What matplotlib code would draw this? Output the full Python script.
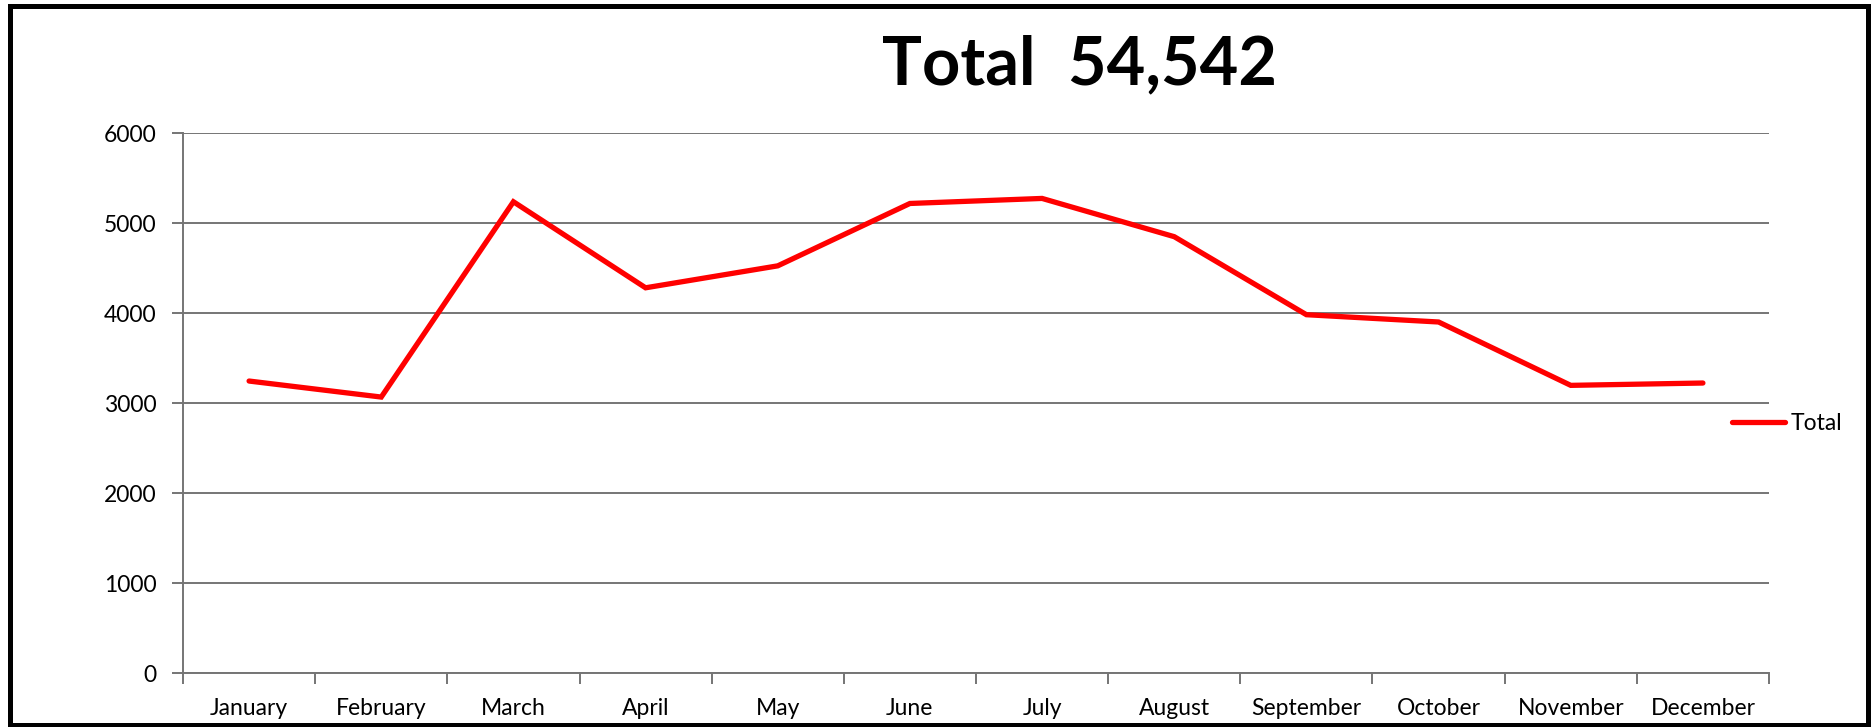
import matplotlib
matplotlib.use("Agg")
import matplotlib.pyplot as plt
from matplotlib.patches import Rectangle

months = ['January', 'February', 'March', 'April', 'May', 'June',
          'July', 'August', 'September', 'October', 'November', 'December']
totals = [3244, 3066, 5236, 4280, 4524, 5217, 5273, 4848, 3981, 3900, 3196, 3222]
title = 'Total  54,542'
series_name = 'Total'
yticks = [0, 1000, 2000, 3000, 4000, 5000, 6000]

W, H = 1873, 727
plt.rcParams['font.family'] = ['Lato', 'DejaVu Sans']
fig = plt.figure(figsize=(W / 100, H / 100), dpi=100)
ax = fig.add_axes([183 / W, 1 - 673 / H, (1769 - 183) / W, (673 - 133) / H])

x = list(range(len(months)))
ax.plot(x, totals, color='#ff0000', lw=3.8, solid_capstyle='round',
        solid_joinstyle='miter', label=series_name, zorder=3)

ax.set_xlim(-0.5, len(months) - 0.5)
ax.set_ylim(0, 6000)
ax.set_yticks(yticks)
ax.set_yticklabels([str(v) for v in yticks])
ax.yaxis.grid(True, color='#757575', lw=1.4)
ax.set_axisbelow(True)

# category boundaries carry the tick marks, labels sit in the middle
ax.set_xticks([i - 0.5 for i in range(len(months) + 1)])
ax.set_xticklabels([])
ax.set_xticks(x, minor=True)
ax.set_xticklabels(months, minor=True)
ax.tick_params(axis='x', which='major', length=8, width=1.4, color='#757575', direction='out')
ax.tick_params(axis='x', which='minor', length=0, pad=18, labelsize=16.5)
ax.tick_params(axis='y', length=8, width=1.4, color='#757575', pad=11, labelsize=16.5)

for s in ['top', 'right']:
    ax.spines[s].set_visible(False)
for s in ['left', 'bottom']:
    ax.spines[s].set_color('#757575')
    ax.spines[s].set_linewidth(1.4)

fig.text(1080 / W, 1 - 84 / H, title, ha='center', va='baseline',
         fontsize=48, fontweight='bold')

ax.legend(loc='center left', bbox_to_anchor=(1732 / W, 1 - 424 / H),
          bbox_transform=fig.transFigure, frameon=False, borderpad=0,
          borderaxespad=0, handlelength=2.3, handletextpad=0.25, fontsize=16.5)

fig.patches.append(Rectangle((9.5 / W, 2.5 / H), (1867.5 - 9.5) / W, (721.5 - 2.5) / H,
                             transform=fig.transFigure, fill=False, ec='black', lw=3.6))

fig.savefig('out.png', dpi=100)
